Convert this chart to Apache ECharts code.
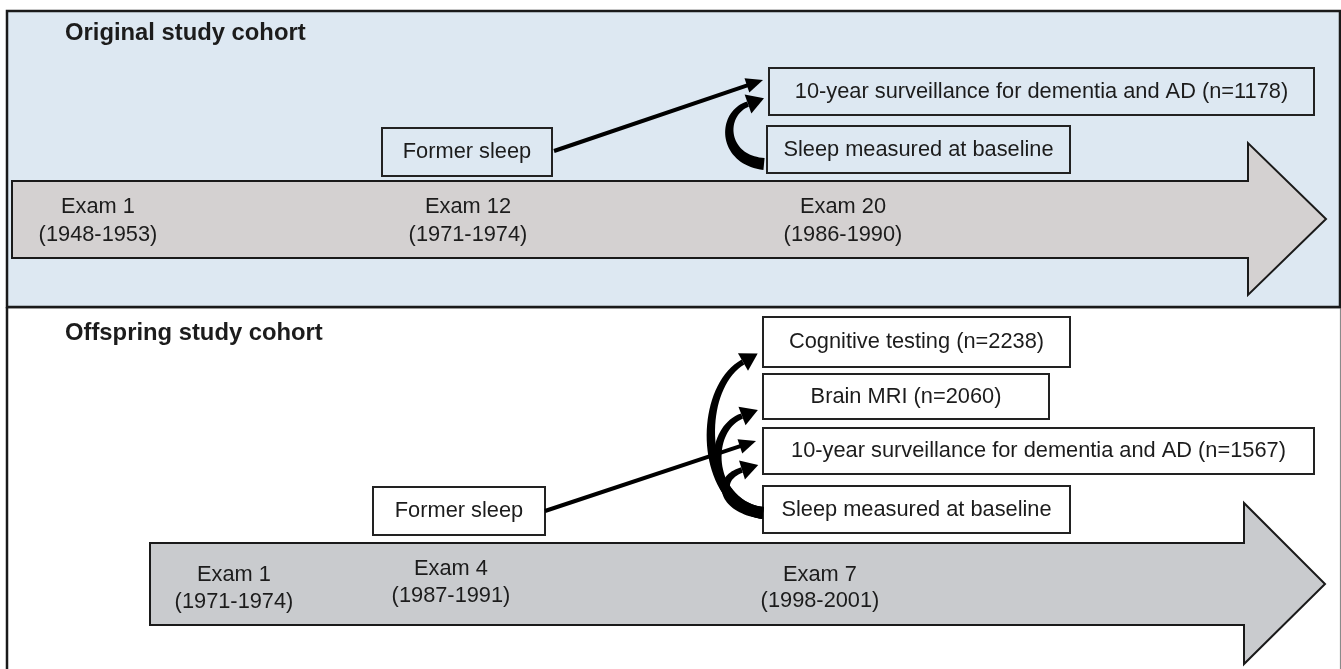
<!DOCTYPE html>
<html><head><meta charset="utf-8">
<script src="https://cdn.jsdelivr.net/npm/echarts@6/dist/echarts.min.js"></script>
<style>html,body{margin:0;padding:0;background:#fff;}#c{width:1341px;height:669px;}</style>
</head><body><div id="c"></div>
<script>
// ---------------- data (text content) ----------------
const cohortTitles = ['Original study cohort', 'Offspring study cohort'];
const originalExams = ['Exam 1', 'Exam 12', 'Exam 20'];
const originalYears = ['(1948-1953)', '(1971-1974)', '(1986-1990)'];
const offspringExams = ['Exam 1', 'Exam 4', 'Exam 7'];
const offspringYears = ['(1971-1974)', '(1987-1991)', '(1998-2001)'];
const originalOutcomes = ['10-year surveillance for dementia and AD (n=1178)', 'Sleep measured at baseline'];
const offspringOutcomes = ['Cognitive testing (n=2238)', 'Brain MRI (n=2060)', '10-year surveillance for dementia and AD (n=1567)', 'Sleep measured at baseline'];
const formerLabel = 'Former sleep';

// ---------------- layout (diagram axis units) ----------------
const panelRects = [[7, 11, 1340, 307], [7, 307, 1341, 672]];
const titleAnchors = [[65, 33], [65, 333]];
const timelineShapes = [
  [12, 181, 1248, 258, 143, 295, 1326, 219],
  [150, 543, 1244, 625, 503, 664, 1325, 584]
];
const originalExamPos = [[98, 207, 235], [468, 207, 235], [843, 207, 235]];
const offspringExamPos = [[234, 575, 602], [451, 569, 596], [820, 575, 601]];
const originalBoxRects = [[382, 128, 552, 176], [769, 68, 1314, 115], [767, 126, 1070, 173]];
const offspringBoxRects = [[373, 487, 545, 535], [763, 317, 1070, 367], [763, 374, 1049, 419], [763, 428, 1314, 474], [763, 486, 1070, 533]];
const straightArrows = [[554, 151, 763, 80], [545, 511, 756, 441]];
const curvedArrows = [
  [764, 164, 722, 160, 720, 114, 748, 104],
  [763, 513, 700, 505, 695, 390, 743, 362],
  [763, 513, 708, 505, 705, 430, 742, 416],
  [763, 513, 720, 508, 716, 478, 742, 470]
];

// ---------------- styles ----------------
const FONT = '"Liberation Sans", Arial, sans-serif';
const TXT = '#1c1c1c';
const LINE = '#1a1a1a';
const BODY_SIZE = 21.8;
const TITLE_SIZE = 23.8;

const dom = document.getElementById('c');
const chart = echarts.init(dom, null, { renderer: 'canvas', width: 1341, height: 669 });

function idx(arr) { return arr.map((d, i) => [i]); }
function P(api, x, y) { return api.coord([x, y]); }

function textEl(api, s, x, y, size, weight, align) {
  const p = P(api, x, y);
  return {
    type: 'text',
    style: {
      text: s, x: p[0], y: p[1], fill: TXT,
      font: (weight || 'normal') + ' ' + size + 'px ' + FONT,
      align: align || 'center', verticalAlign: 'middle',
      textAlign: align || 'center', textVerticalAlign: 'middle'
    }
  };
}

function bez(a, t) {
  const u = 1 - t;
  const x = u*u*u*a[0] + 3*u*u*t*a[2] + 3*u*t*t*a[4] + t*t*t*a[6];
  const y = u*u*u*a[1] + 3*u*u*t*a[3] + 3*u*t*t*a[5] + t*t*t*a[7];
  const dx = 3*u*u*(a[2]-a[0]) + 6*u*t*(a[4]-a[2]) + 3*t*t*(a[6]-a[4]);
  const dy = 3*u*u*(a[3]-a[1]) + 6*u*t*(a[5]-a[3]) + 3*t*t*(a[7]-a[5]);
  return [x, y, dx, dy];
}

const series = [];

// panels
series.push({
  type: 'custom', z: 1, silent: true, data: idx(panelRects),
  renderItem: function (params, api) {
    const r = panelRects[params.dataIndex];
    const a = P(api, r[0], r[1]), b = P(api, r[2], r[3]);
    if (params.dataIndex === 0) {
      return {
        type: 'rect', z2: 2,
        shape: { x: a[0], y: a[1], width: b[0]-a[0], height: b[1]-a[1] },
        style: { fill: '#dde8f2', stroke: '#1a1a1a', lineWidth: 2.5 }
      };
    }
    return {
      type: 'group', children: [
        { type: 'rect', shape: { x: a[0], y: a[1], width: b[0]-a[0], height: b[1]-a[1] }, style: { fill: '#ffffff' } },
        { type: 'line', shape: { x1: a[0], y1: a[1], x2: b[0], y2: a[1] }, style: { stroke: '#1a1a1a', lineWidth: 2.5 } },
        { type: 'line', shape: { x1: a[0], y1: a[1], x2: a[0], y2: b[1] }, style: { stroke: '#1a1a1a', lineWidth: 2.5 } },
        { type: 'line', shape: { x1: b[0]-0.5, y1: a[1], x2: b[0]-0.5, y2: b[1] }, style: { stroke: '#8a8a8a', lineWidth: 1.2 } }
      ]
    };
  }
});

// timelines
series.push({
  type: 'custom', z: 2, silent: true, data: idx(timelineShapes),
  renderItem: function (params, api) {
    const s = timelineShapes[params.dataIndex];
    const pts = [[s[0], s[1]], [s[2], s[1]], [s[2], s[4]], [s[6], s[7]], [s[2], s[5]], [s[2], s[3]], [s[0], s[3]]]
      .map(p => P(api, p[0], p[1]));
    return {
      type: 'polygon', shape: { points: pts },
      style: { fill: params.dataIndex === 0 ? '#d4d1d1' : '#c9cbce', stroke: LINE, lineWidth: 2 }
    };
  }
});

// titles
series.push({
  type: 'custom', z: 5, silent: true, data: idx(cohortTitles),
  renderItem: function (params, api) {
    const a = titleAnchors[params.dataIndex];
    return textEl(api, cohortTitles[params.dataIndex], a[0], a[1], TITLE_SIZE, 'bold', 'left');
  }
});

// exam labels
function examSeries(names, years, pos) {
  return {
    type: 'custom', z: 5, silent: true, data: idx(names),
    renderItem: function (params, api) {
      const i = params.dataIndex, p = pos[i];
      return {
        type: 'group', children: [
          textEl(api, names[i], p[0], p[1], BODY_SIZE),
          textEl(api, years[i], p[0], p[2], BODY_SIZE)
        ]
      };
    }
  };
}
series.push(examSeries(originalExams, originalYears, originalExamPos));
series.push(examSeries(offspringExams, offspringYears, offspringExamPos));

// boxes
function boxSeries(labels, rects, fill) {
  return {
    type: 'custom', z: 4, silent: true, data: idx(labels),
    renderItem: function (params, api) {
      const i = params.dataIndex, r = rects[i];
      const a = P(api, r[0], r[1]), b = P(api, r[2], r[3]);
      return {
        type: 'group', children: [
          { type: 'rect', shape: { x: a[0], y: a[1], width: b[0]-a[0], height: b[1]-a[1] },
            style: { fill: fill, stroke: '#222', lineWidth: 2 } },
          textEl(api, labels[i], (r[0]+r[2])/2, (r[1]+r[3])/2, BODY_SIZE)
        ]
      };
    }
  };
}
series.push(boxSeries([formerLabel].concat(originalOutcomes), originalBoxRects, '#dde8f2'));
series.push(boxSeries([formerLabel].concat(offspringOutcomes), offspringBoxRects, '#ffffff'));

// straight arrows
series.push({
  type: 'custom', z: 6, silent: true, data: idx(straightArrows),
  renderItem: function (params, api) {
    const s = straightArrows[params.dataIndex];
    const a = P(api, s[0], s[1]), b = P(api, s[2], s[3]);
    const dx = b[0]-a[0], dy = b[1]-a[1], L = Math.hypot(dx, dy);
    const ux = dx/L, uy = dy/L, nx = -uy, ny = ux;
    const hl = 17, hw = 7.5;
    const base = [b[0]-ux*hl, b[1]-uy*hl];
    return {
      type: 'group', children: [
        { type: 'line', shape: { x1: a[0], y1: a[1], x2: base[0]+ux*2, y2: base[1]+uy*2 },
          style: { stroke: '#000', lineWidth: 4 } },
        { type: 'polygon', shape: { points: [b, [base[0]+nx*hw, base[1]+ny*hw], [base[0]-nx*hw, base[1]-ny*hw]] },
          style: { fill: '#000' } }
      ]
    };
  }
});

// curved arrows (tapered)
series.push({
  type: 'custom', z: 6, silent: true, data: idx(curvedArrows),
  renderItem: function (params, api) {
    const c = curvedArrows[params.dataIndex];
    const pc = [];
    for (let k = 0; k < 4; k++) { const q = P(api, c[2*k], c[2*k+1]); pc.push(q[0], q[1]); }
    const w0 = 12, w1 = 5.5, N = 40;
    const left = [], right = [];
    for (let j = 0; j <= N; j++) {
      const t = j / N, b = bez(pc, t);
      const L = Math.hypot(b[2], b[3]) || 1;
      const nx = -b[3]/L, ny = b[2]/L, w = (w0 + (w1 - w0) * t) / 2;
      left.push([b[0] + nx*w, b[1] + ny*w]);
      right.push([b[0] - nx*w, b[1] - ny*w]);
    }
    const end = bez(pc, 1), L = Math.hypot(end[2], end[3]);
    const ux = end[2]/L, uy = end[3]/L, nx = -uy, ny = ux;
    const hl = 17, hw = 10;
    const tip = [end[0]+ux*hl, end[1]+uy*hl];
    return {
      type: 'group', children: [
        { type: 'polygon', shape: { points: left.concat(right.reverse()) }, style: { fill: '#000' } },
        { type: 'polygon', shape: { points: [tip, [end[0]+nx*hw, end[1]+ny*hw], [end[0]-nx*hw, end[1]-ny*hw]] },
          style: { fill: '#000' } }
      ]
    };
  }
});

chart.setOption({
  animation: false,
  backgroundColor: '#ffffff',
  grid: { left: 0, right: 0, top: 0, bottom: 0 },
  xAxis: { type: 'value', min: 0, max: 1341, show: false },
  yAxis: { type: 'value', min: 0, max: 669, inverse: true, show: false },
  series: series
});
</script>
</body></html>
